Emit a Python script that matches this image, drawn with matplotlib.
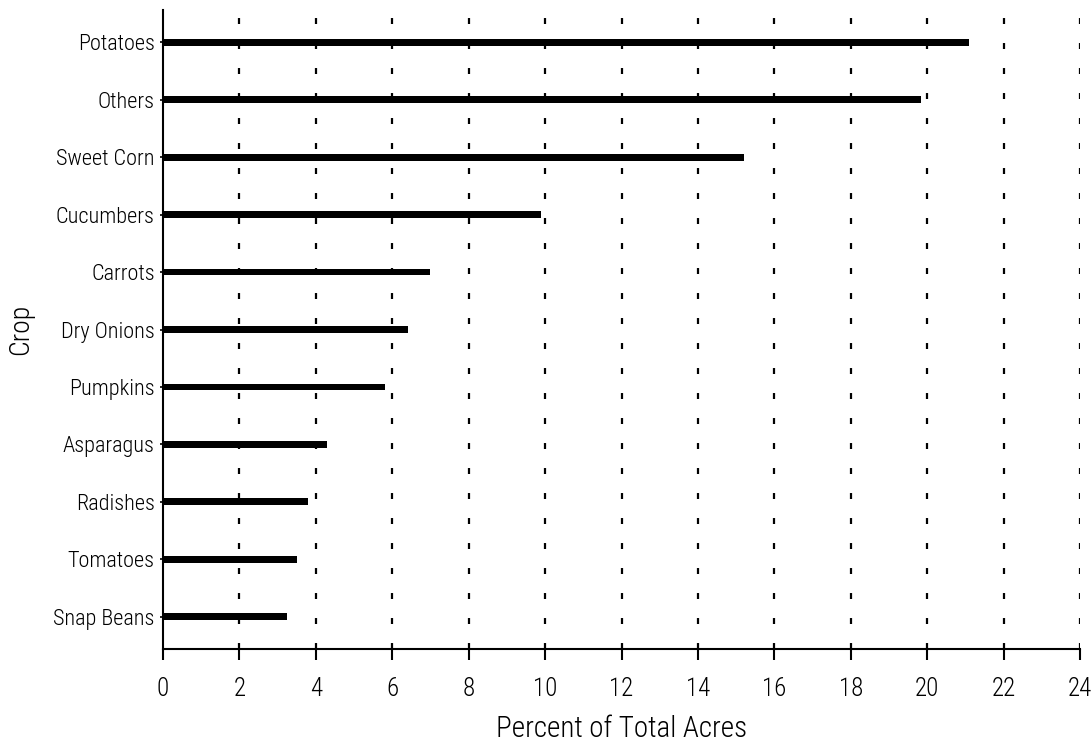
import matplotlib
matplotlib.use("Agg")
import matplotlib.pyplot as plt
from matplotlib import font_manager

# Crop shares, top to bottom as shown in the chart
crops = ["Potatoes", "Others", "Sweet Corn", "Cucumbers", "Carrots", "Dry Onions",
         "Pumpkins", "Asparagus", "Radishes", "Tomatoes", "Snap Beans"]
percent = [21.1, 19.85, 15.2, 9.9, 7.0, 6.4, 5.8, 4.3, 3.8, 3.5, 3.25]
x_ticks = list(range(0, 25, 2))

available = {f.name for f in font_manager.fontManager.ttflist}
families = [f for f in ["Liberation Sans Narrow", "Roboto Condensed", "Liberation Sans"] if f in available]
plt.rcParams["font.family"] = families + ["DejaVu Sans"]
plt.rcParams["font.weight"] = "light"
plt.rcParams["axes.labelweight"] = "light"
plt.rcParams["lines.scale_dashes"] = False

fig = plt.figure(figsize=(10.92, 7.47), dpi=100)
ax = fig.add_axes([0.1493, 0.1312, 0.8397, 0.8554])

ypos = list(range(len(crops)))[::-1]
ax.barh(ypos, percent, height=0.12, color="black", zorder=3)

ax.set_xlim(0, 24)
ax.set_ylim(-0.56, len(crops) - 1 + 0.56)
ax.set_xticks(x_ticks)
ax.set_xticklabels([str(t) for t in x_ticks], fontsize=18)
ax.set_yticks(ypos)
ax.set_yticklabels(crops, fontsize=16)

# dotted vertical grid, one line per x tick
for t in x_ticks[1:]:
    ax.axvline(t, color="black", linewidth=1.6, dashes=(4.3, 13.7), zorder=1)

for side in ["top", "right"]:
    ax.spines[side].set_visible(False)
ax.spines["left"].set_linewidth(1.5)
ax.spines["bottom"].set_linewidth(1.5)
ax.tick_params(axis="x", direction="out", length=8, width=1.5, pad=12)
ax.tick_params(axis="y", direction="out", length=2, width=1.2, pad=4)

ax.set_xlabel("Percent of Total Acres", fontsize=21, labelpad=10)
ax.set_ylabel("Crop", fontsize=20, labelpad=14)

fig.savefig("out.png", dpi=100)
